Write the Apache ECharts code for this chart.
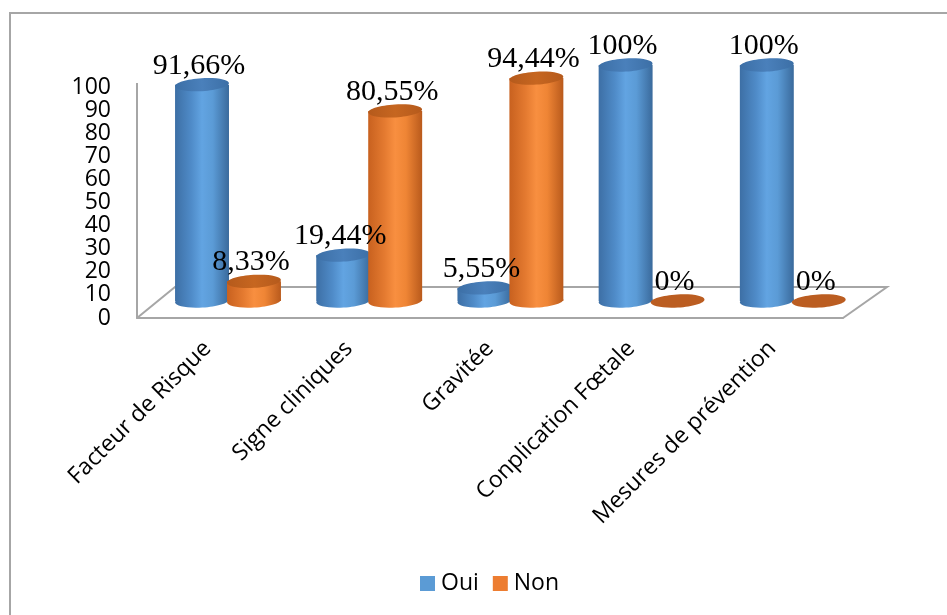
<!DOCTYPE html>
<html>
<head>
<meta charset="utf-8">
<script src="https://cdn.jsdelivr.net/npm/echarts@6/dist/echarts.min.js"></script>
<style>
  html, body { margin: 0; padding: 0; background: #ffffff; }
  #chart { width: 947px; height: 615px; }
</style>
</head>
<body>
<div id="chart"></div>
<script>
// Categories and percentages for each answer
const categories = ['Facteur de Risque', 'Signe cliniques', 'Gravitée', 'Conplication Fœtale', 'Mesures de prévention'];
const oui = [91.66, 19.44, 5.55, 100, 100];
const non = [8.33, 80.55, 94.44, 0, 0];
const seriesNames = ['Oui', 'Non'];

const BLUE = {
  legend: '#5b9bd5',
  body: ['#3d6fa5', '#4f8bc8', '#62a4e2', '#5b9bd6', '#3a6a9c'],
  top: ['#3c6fa6', '#4a80bb'],
  flat: '#3f72aa'
};
const ORANGE = {
  legend: '#ed7d31',
  body: ['#c8611f', '#e47a30', '#f88f40', '#ef8535', '#b95a1c'],
  top: ['#b55a1c', '#c66620'],
  flat: '#bb5d21'
};

const SANS = '"Open Sans", sans-serif';

function hGrad(stops) {
  return new echarts.graphic.LinearGradient(0, 0, 1, 0, [
    { offset: 0, color: stops[0] },
    { offset: 0.3, color: stops[1] },
    { offset: 0.5, color: stops[2] },
    { offset: 0.7, color: stops[3] },
    { offset: 1, color: stops[4] }
  ]);
}

// Geometry of one cylinder inside its category band
function geom(api, side) {
  const idx = api.value(0);
  const v = api.value(1);
  const base = api.coord([idx, 0]);
  const top = api.coord([idx, v]);
  const band = api.size([1, 0])[0];
  const w = band * 0.382;
  const cx = base[0] + side * band * 0.184;
  return { v, cx, rx: w / 2, w, yBase: base[1], yTop: top[1] };
}

function cylinderRenderer(side, pal) {
  return function (params, api) {
    const g = geom(api, side);
    const ry = 6.5;
    const tilt = 0.06;
    if (g.v === 0) {
      return {
        type: 'ellipse',
        shape: { cx: g.cx, cy: g.yBase, rx: g.rx, ry: ry },
        rotation: tilt, originX: g.cx, originY: g.yBase,
        style: { fill: pal.flat }
      };
    }
    return {
      type: 'group',
      children: [
        {
          type: 'ellipse',
          shape: { cx: g.cx, cy: g.yBase, rx: g.rx, ry: ry },
          rotation: tilt, originX: g.cx, originY: g.yBase,
          style: { fill: hGrad(pal.body) }
        },
        {
          type: 'rect',
          shape: { x: g.cx - g.rx, y: g.yTop, width: g.w, height: g.yBase - g.yTop },
          style: { fill: hGrad(pal.body) }
        },
        {
          type: 'ellipse',
          shape: { cx: g.cx, cy: g.yTop, rx: g.rx, ry: ry },
          rotation: tilt, originX: g.cx, originY: g.yTop,
          style: {
            fill: new echarts.graphic.LinearGradient(0, 0, 1, 0, [
              { offset: 0, color: pal.top[0] },
              { offset: 0.5, color: pal.top[1] },
              { offset: 1, color: pal.top[0] }
            ])
          }
        }
      ]
    };
  };
}

function fmt(v) {
  return String(v).replace('.', ',') + '%';
}

function labelRenderer(side) {
  return function (params, api) {
    const g = geom(api, side);
    return {
      type: 'text',
      style: {
        text: fmt(g.v),
        x: g.cx - 3,
        y: g.yTop - 4,
        align: 'center',
        verticalAlign: 'bottom',
        font: '30px "Liberation Serif", "Times New Roman", serif',
        fill: '#000000'
      }
    };
  };
}

const pairs = arr => arr.map((v, i) => [i, v]);

const chart = echarts.init(document.getElementById('chart'), null, { renderer: 'canvas' });

chart.setOption({
  animation: false,
  backgroundColor: '#ffffff',
  legend: {
    data: seriesNames,
    left: 415,
    top: 567,
    icon: 'rect',
    itemWidth: 15,
    itemHeight: 15,
    itemGap: 14,
    textStyle: { fontFamily: SANS, fontSize: 23, color: '#000000', padding: [0, 0, 0, 1] }
  },
  graphic: [
    {
      type: 'rect',
      shape: { x: 10, y: 13, width: 1000, height: 700 },
      style: { fill: 'none', stroke: '#a6a6a6', lineWidth: 2 },
      z: -1
    },
    {
      type: 'polyline',
      shape: { points: [[137, 318], [175, 287], [887, 287], [843, 318]] },
      style: { fill: 'none', stroke: '#a6a6a6', lineWidth: 2 },
      z: -1
    },
    {
      // wall edge rising a little above the top tick
      type: 'line',
      shape: { x1: 137, y1: 83, x2: 137, y2: 90 },
      style: { stroke: '#a6a6a6', lineWidth: 2 },
      z: -1
    }
  ],
  grid: [
    // depth plane where the cylinders stand
    { left: 157.4, right: 83.6, top: 65, bottom: 314 },
    // front plane carrying the axis labels
    { left: 137, right: 104, top: 87, bottom: 297 }
  ],
  xAxis: [
    { type: 'category', gridIndex: 0, data: categories, show: false },
    {
      type: 'category', gridIndex: 1, data: categories,
      axisLine: { show: true, lineStyle: { color: '#a6a6a6', width: 2 } },
      axisTick: { show: false },
      axisLabel: {
        rotate: 45, margin: 27, interval: 0,
        fontFamily: SANS, fontSize: 23, color: '#000000'
      }
    }
  ],
  yAxis: [
    { type: 'value', gridIndex: 0, min: 0, max: 100, show: false },
    {
      type: 'value', gridIndex: 1, min: 0, max: 100, interval: 10,
      axisLine: { show: true, lineStyle: { color: '#a6a6a6', width: 2 } },
      axisTick: { show: false },
      splitLine: { show: false },
      axisLabel: {
        margin: 26, fontFamily: SANS, fontSize: 23, lineHeight: 20, color: '#000000',
        showMinLabel: true, showMaxLabel: true, hideOverlap: false
      }
    }
  ],
  series: [
    {
      name: seriesNames[0], type: 'custom', xAxisIndex: 0, yAxisIndex: 0, z: 2,
      itemStyle: { color: BLUE.legend },
      renderItem: cylinderRenderer(-1, BLUE), data: pairs(oui)
    },
    {
      name: seriesNames[1], type: 'custom', xAxisIndex: 0, yAxisIndex: 0, z: 3,
      itemStyle: { color: ORANGE.legend },
      renderItem: cylinderRenderer(1, ORANGE), data: pairs(non)
    },
    {
      name: seriesNames[0], type: 'custom', xAxisIndex: 0, yAxisIndex: 0, z: 10,
      itemStyle: { color: BLUE.legend },
      renderItem: labelRenderer(-1), data: pairs(oui)
    },
    {
      name: seriesNames[1], type: 'custom', xAxisIndex: 0, yAxisIndex: 0, z: 10,
      itemStyle: { color: ORANGE.legend },
      renderItem: labelRenderer(1), data: pairs(non)
    }
  ]
});
</script>
</body>
</html>
